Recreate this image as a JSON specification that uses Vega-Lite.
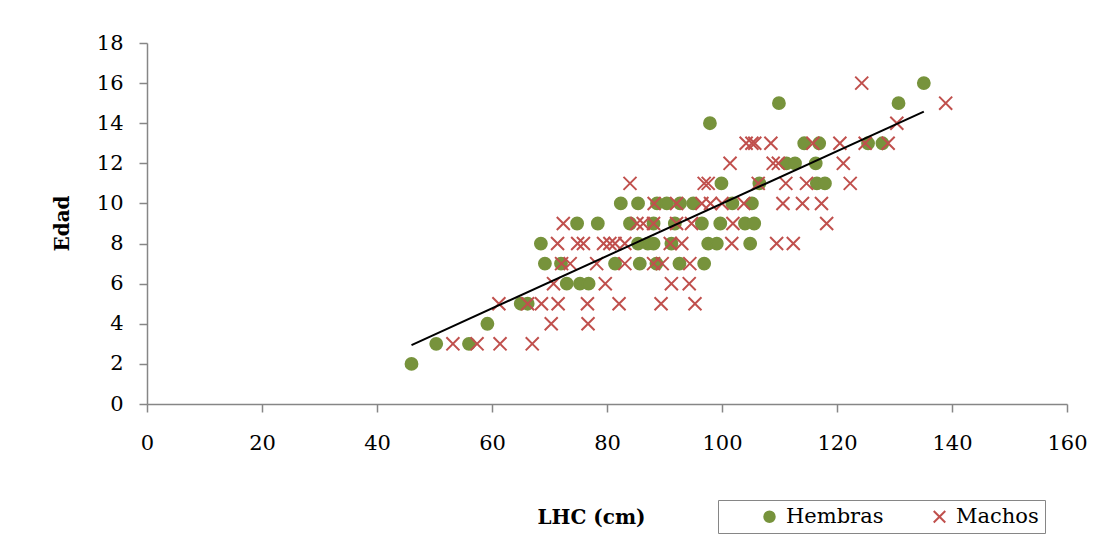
{
  "$schema": "https://vega.github.io/schema/vega-lite/v6.json",
  "width": 920,
  "height": 361,
  "autosize": "none",
  "padding": {"left": 147, "top": 43, "right": 32, "bottom": 134},
  "background": "white",
  "datasets": {
    "pts": [
      {"sexo": "Hembras", "lhc": 46, "edad": 2},
      {"sexo": "Hembras", "lhc": 50.3, "edad": 3},
      {"sexo": "Hembras", "lhc": 56, "edad": 3},
      {"sexo": "Hembras", "lhc": 59.2, "edad": 4},
      {"sexo": "Hembras", "lhc": 65, "edad": 5},
      {"sexo": "Hembras", "lhc": 66.2, "edad": 5},
      {"sexo": "Hembras", "lhc": 73, "edad": 6},
      {"sexo": "Hembras", "lhc": 75.3, "edad": 6},
      {"sexo": "Hembras", "lhc": 76.8, "edad": 6},
      {"sexo": "Hembras", "lhc": 69.2, "edad": 7},
      {"sexo": "Hembras", "lhc": 72, "edad": 7},
      {"sexo": "Hembras", "lhc": 81.4, "edad": 7},
      {"sexo": "Hembras", "lhc": 85.7, "edad": 7},
      {"sexo": "Hembras", "lhc": 88.6, "edad": 7},
      {"sexo": "Hembras", "lhc": 92.6, "edad": 7},
      {"sexo": "Hembras", "lhc": 96.9, "edad": 7},
      {"sexo": "Hembras", "lhc": 68.5, "edad": 8},
      {"sexo": "Hembras", "lhc": 85.4, "edad": 8},
      {"sexo": "Hembras", "lhc": 87.1, "edad": 8},
      {"sexo": "Hembras", "lhc": 88.1, "edad": 8},
      {"sexo": "Hembras", "lhc": 91.2, "edad": 8},
      {"sexo": "Hembras", "lhc": 97.6, "edad": 8},
      {"sexo": "Hembras", "lhc": 99.1, "edad": 8},
      {"sexo": "Hembras", "lhc": 104.9, "edad": 8},
      {"sexo": "Hembras", "lhc": 74.8, "edad": 9},
      {"sexo": "Hembras", "lhc": 78.4, "edad": 9},
      {"sexo": "Hembras", "lhc": 84, "edad": 9},
      {"sexo": "Hembras", "lhc": 88.1, "edad": 9},
      {"sexo": "Hembras", "lhc": 91.8, "edad": 9},
      {"sexo": "Hembras", "lhc": 96.5, "edad": 9},
      {"sexo": "Hembras", "lhc": 99.7, "edad": 9},
      {"sexo": "Hembras", "lhc": 104, "edad": 9},
      {"sexo": "Hembras", "lhc": 105.6, "edad": 9},
      {"sexo": "Hembras", "lhc": 82.4, "edad": 10},
      {"sexo": "Hembras", "lhc": 85.4, "edad": 10},
      {"sexo": "Hembras", "lhc": 88.7, "edad": 10},
      {"sexo": "Hembras", "lhc": 90.4, "edad": 10},
      {"sexo": "Hembras", "lhc": 92.7, "edad": 10},
      {"sexo": "Hembras", "lhc": 95, "edad": 10},
      {"sexo": "Hembras", "lhc": 101.8, "edad": 10},
      {"sexo": "Hembras", "lhc": 105.2, "edad": 10},
      {"sexo": "Hembras", "lhc": 99.9, "edad": 11},
      {"sexo": "Hembras", "lhc": 106.5, "edad": 11},
      {"sexo": "Hembras", "lhc": 116.5, "edad": 11},
      {"sexo": "Hembras", "lhc": 117.9, "edad": 11},
      {"sexo": "Hembras", "lhc": 111.2, "edad": 12},
      {"sexo": "Hembras", "lhc": 112.7, "edad": 12},
      {"sexo": "Hembras", "lhc": 116.3, "edad": 12},
      {"sexo": "Hembras", "lhc": 114.3, "edad": 13},
      {"sexo": "Hembras", "lhc": 116.9, "edad": 13},
      {"sexo": "Hembras", "lhc": 125.4, "edad": 13},
      {"sexo": "Hembras", "lhc": 127.9, "edad": 13},
      {"sexo": "Hembras", "lhc": 97.9, "edad": 14},
      {"sexo": "Hembras", "lhc": 109.9, "edad": 15},
      {"sexo": "Hembras", "lhc": 130.7, "edad": 15},
      {"sexo": "Hembras", "lhc": 135.1, "edad": 16},
      {"sexo": "Machos", "lhc": 53.2, "edad": 3},
      {"sexo": "Machos", "lhc": 57.4, "edad": 3},
      {"sexo": "Machos", "lhc": 61.4, "edad": 3},
      {"sexo": "Machos", "lhc": 67, "edad": 3},
      {"sexo": "Machos", "lhc": 70.3, "edad": 4},
      {"sexo": "Machos", "lhc": 76.7, "edad": 4},
      {"sexo": "Machos", "lhc": 61.2, "edad": 5},
      {"sexo": "Machos", "lhc": 66.2, "edad": 5},
      {"sexo": "Machos", "lhc": 68.6, "edad": 5},
      {"sexo": "Machos", "lhc": 71.5, "edad": 5},
      {"sexo": "Machos", "lhc": 76.6, "edad": 5},
      {"sexo": "Machos", "lhc": 82.1, "edad": 5},
      {"sexo": "Machos", "lhc": 89.4, "edad": 5},
      {"sexo": "Machos", "lhc": 95.3, "edad": 5},
      {"sexo": "Machos", "lhc": 70.7, "edad": 6},
      {"sexo": "Machos", "lhc": 79.7, "edad": 6},
      {"sexo": "Machos", "lhc": 91.2, "edad": 6},
      {"sexo": "Machos", "lhc": 94.3, "edad": 6},
      {"sexo": "Machos", "lhc": 72.1, "edad": 7},
      {"sexo": "Machos", "lhc": 73.6, "edad": 7},
      {"sexo": "Machos", "lhc": 78.2, "edad": 7},
      {"sexo": "Machos", "lhc": 83.1, "edad": 7},
      {"sexo": "Machos", "lhc": 88.1, "edad": 7},
      {"sexo": "Machos", "lhc": 89.6, "edad": 7},
      {"sexo": "Machos", "lhc": 94.4, "edad": 7},
      {"sexo": "Machos", "lhc": 71.4, "edad": 8},
      {"sexo": "Machos", "lhc": 74.9, "edad": 8},
      {"sexo": "Machos", "lhc": 75.9, "edad": 8},
      {"sexo": "Machos", "lhc": 79.4, "edad": 8},
      {"sexo": "Machos", "lhc": 80.5, "edad": 8},
      {"sexo": "Machos", "lhc": 81.4, "edad": 8},
      {"sexo": "Machos", "lhc": 83.1, "edad": 8},
      {"sexo": "Machos", "lhc": 91, "edad": 8},
      {"sexo": "Machos", "lhc": 93, "edad": 8},
      {"sexo": "Machos", "lhc": 101.7, "edad": 8},
      {"sexo": "Machos", "lhc": 109.5, "edad": 8},
      {"sexo": "Machos", "lhc": 112.4, "edad": 8},
      {"sexo": "Machos", "lhc": 72.4, "edad": 9},
      {"sexo": "Machos", "lhc": 85.2, "edad": 9},
      {"sexo": "Machos", "lhc": 86.3, "edad": 9},
      {"sexo": "Machos", "lhc": 88.1, "edad": 9},
      {"sexo": "Machos", "lhc": 92.1, "edad": 9},
      {"sexo": "Machos", "lhc": 94.7, "edad": 9},
      {"sexo": "Machos", "lhc": 101.9, "edad": 9},
      {"sexo": "Machos", "lhc": 118.2, "edad": 9},
      {"sexo": "Machos", "lhc": 88.2, "edad": 10},
      {"sexo": "Machos", "lhc": 92.1, "edad": 10},
      {"sexo": "Machos", "lhc": 96.5, "edad": 10},
      {"sexo": "Machos", "lhc": 98, "edad": 10},
      {"sexo": "Machos", "lhc": 100, "edad": 10},
      {"sexo": "Machos", "lhc": 103.8, "edad": 10},
      {"sexo": "Machos", "lhc": 110.6, "edad": 10},
      {"sexo": "Machos", "lhc": 114, "edad": 10},
      {"sexo": "Machos", "lhc": 117.3, "edad": 10},
      {"sexo": "Machos", "lhc": 84, "edad": 11},
      {"sexo": "Machos", "lhc": 96.9, "edad": 11},
      {"sexo": "Machos", "lhc": 97.6, "edad": 11},
      {"sexo": "Machos", "lhc": 106.3, "edad": 11},
      {"sexo": "Machos", "lhc": 111.1, "edad": 11},
      {"sexo": "Machos", "lhc": 114.7, "edad": 11},
      {"sexo": "Machos", "lhc": 122.3, "edad": 11},
      {"sexo": "Machos", "lhc": 101.4, "edad": 12},
      {"sexo": "Machos", "lhc": 108.9, "edad": 12},
      {"sexo": "Machos", "lhc": 109.8, "edad": 12},
      {"sexo": "Machos", "lhc": 121.1, "edad": 12},
      {"sexo": "Machos", "lhc": 104.2, "edad": 13},
      {"sexo": "Machos", "lhc": 105.2, "edad": 13},
      {"sexo": "Machos", "lhc": 105.7, "edad": 13},
      {"sexo": "Machos", "lhc": 108.5, "edad": 13},
      {"sexo": "Machos", "lhc": 115.8, "edad": 13},
      {"sexo": "Machos", "lhc": 120.5, "edad": 13},
      {"sexo": "Machos", "lhc": 124.9, "edad": 13},
      {"sexo": "Machos", "lhc": 128.9, "edad": 13},
      {"sexo": "Machos", "lhc": 130.4, "edad": 14},
      {"sexo": "Machos", "lhc": 138.9, "edad": 15},
      {"sexo": "Machos", "lhc": 124.3, "edad": 16}
    ],
    "trend": [
      {"lhc": 46, "edad": 2.94},
      {"lhc": 135.1, "edad": 14.58}
    ]
  },
  "layer": [
    {
      "data": {"name": "pts"},
      "mark": {"type": "point", "size": 140, "strokeWidth": 2, "opacity": 1},
      "encoding": {
        "x": {
          "field": "lhc", "type": "quantitative",
          "scale": {"domain": [0, 160], "nice": false, "zero": false},
          "axis": {
            "title": "LHC (cm)", "values": [0, 20, 40, 60, 80, 100, 120, 140, 160],
            "labelPadding": 20, "labelFlush": false,
            "titleX": 444, "titleY": 113, "titleBaseline": "middle", "titleAlign": "center"
          }
        },
        "y": {
          "field": "edad", "type": "quantitative",
          "scale": {"domain": [0, 18], "nice": false},
          "axis": {
            "title": "Edad", "values": [0, 2, 4, 6, 8, 10, 12, 14, 16, 18],
            "labelPadding": 16, "labelFlush": false,
            "titleX": -85, "titleY": 180, "titleAngle": -90, "titleBaseline": "middle", "titleAlign": "center"
          }
        },
        "fill": {
          "field": "sexo", "type": "nominal",
          "scale": {"domain": ["Hembras", "Machos"], "range": ["#77933C", "transparent"]},
          "legend": {"title": null}
        },
        "stroke": {
          "field": "sexo", "type": "nominal",
          "scale": {"domain": ["Hembras", "Machos"], "range": ["#77933C", "#C0504D"]},
          "legend": {"title": null}
        },
        "shape": {
          "field": "sexo", "type": "nominal",
          "scale": {"domain": ["Hembras", "Machos"], "range": ["circle", "M-1.1,-1.1L1.1,1.1M-1.1,1.1L1.1,-1.1"]},
          "legend": {"title": null}
        }
      }
    },
    {
      "data": {"name": "trend"},
      "mark": {"type": "line", "color": "black", "strokeWidth": 2},
      "encoding": {
        "x": {"field": "lhc", "type": "quantitative"},
        "y": {"field": "edad", "type": "quantitative"}
      }
    }
  ],
  "config": {
    "view": {"stroke": null},
    "axis": {
      "grid": false,
      "domainColor": "#868686",
      "domainWidth": 1.5,
      "tickColor": "#868686",
      "tickWidth": 1.5,
      "tickSize": 8,
      "labelFont": "DejaVu Serif",
      "labelFontSize": 21,
      "labelColor": "black",
      "titleFont": "DejaVu Serif",
      "titleFontSize": 20,
      "titleFontWeight": "bold",
      "titleColor": "black"
    },
    "legend": {
      "orient": "none",
      "legendX": 571,
      "legendY": 457,
      "direction": "horizontal",
      "strokeColor": "#868686",
      "padding": 6,
      "labelFont": "DejaVu Serif",
      "labelFontSize": 21,
      "labelColor": "black",
      "symbolSize": 110,
      "symbolStrokeWidth": 2,
      "symbolOffset": 35,
      "labelOffset": 6,
      "columnPadding": 10
    }
  }
}
